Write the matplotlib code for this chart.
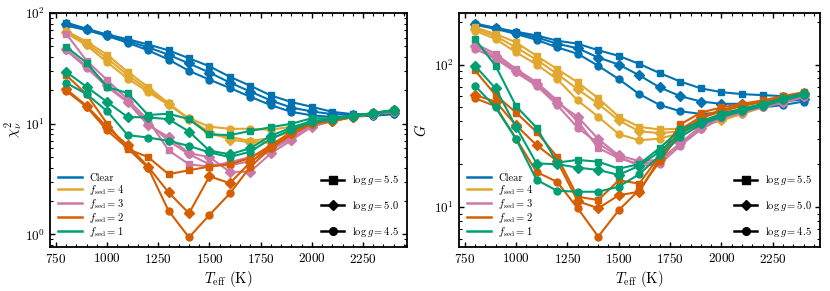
import matplotlib
matplotlib.use("Agg")
import matplotlib.pyplot as plt
from matplotlib.lines import Line2D
from matplotlib.ticker import MultipleLocator

plt.rcParams['font.family'] = 'serif'
plt.rcParams['font.serif'] = ['cmr10']
plt.rcParams['mathtext.fontset'] = 'cm'
plt.rcParams['axes.formatter.use_mathtext'] = True
plt.rcParams['axes.unicode_minus'] = False

# effective temperatures of the grid
teff = [800, 900, 1000, 1100, 1200, 1300, 1400, 1500, 1600, 1700,
        1800, 1900, 2000, 2100, 2200, 2300, 2400]

# reduced chi^2, rows: log g = 5.5, 5.0, 4.5
chi2_clear = [
    [82, 72, 64, 58, 52, 46, 39, 33, 26.5, 22, 18, 15.7, 14.2, 12.8, 12.2, 12.2, 12.8],
    [80, 71, 63, 56, 49, 42, 35, 29, 23.5, 19.5, 16.2, 14, 12.9, 12.2, 12, 12, 12.5],
    [77, 70, 62, 54, 46, 38, 30, 25, 21, 17.5, 14.7, 12.8, 11.9, 11.5, 11.6, 11.8, 12.2],
]
chi2_f4 = [
    [69, 55, 42, 29.4, 21.5, 15.3, 11.0, 8.0, 7.6, 7.0, 7.4, 8.5, 10.0, 10.8, 11.6, 12.4, 13.2],
    [68, 53, 39, 27.5, 20.3, 15.0, 11.0, 8.4, 7.2, 6.8, 6.8, 7.2, 9.6, 10.6, 11.5, 12.3, 13.0],
    [66, 51, 36, 25.6, 19.4, 14.8, 11.2, 9.4, 9.0, 9.0, 8.8, 9.4, 10.2, 10.7, 11.5, 12.2, 12.8],
]
chi2_f3 = [
    [65, 37, 24.8, 16.6, 10.8, 5.75, 4.3, 4.1, 4.5, 5.0, 6.0, 7.8, 9.8, 10.8, 11.6, 12.4, 13.0],
    [47, 33, 22.5, 15.7, 9.7, 7.6, 5.4, 5.0, 3.66, 3.7, 5.4, 7.1, 9.4, 10.6, 11.5, 12.3, 12.9],
    [46, 32, 21.5, 15.7, 10.2, 7.0, 5.3, 4.3, 4.2, 4.6, 5.8, 7.4, 9.5, 10.6, 11.5, 12.3, 12.9],
]
chi2_f2 = [
    [27.5, 18.4, 10.0, 5.9, 5.0, 3.5, 3.8, 4.1, 4.3, 4.9, 6.4, 8.4, 10.4, 10.8, 11.7, 12.5, 13.3],
    [20.5, 14.5, 9.3, 6.4, 4.1, 2.4, 1.55, 3.35, 2.9, 4.5, 6.2, 8.2, 10.2, 10.6, 11.6, 12.4, 13.2],
    [19.8, 14.2, 8.7, 6.0, 4.0, 1.64, 0.94, 1.5, 2.35, 4.1, 6.0, 8.0, 10.0, 10.5, 11.5, 12.3, 13.1],
]
chi2_f1 = [
    [49.5, 35.5, 21.5, 18.9, 12.0, 12.3, 11.0, 8.0, 7.9, 8.6, 9.3, 10.0, 11.2, 11.2, 11.8, 12.5, 13.3],
    [29.4, 21.5, 15.7, 11.5, 11.4, 11.0, 8.5, 5.7, 5.3, 6.0, 7.8, 9.2, 10.6, 11.0, 11.7, 12.4, 13.2],
    [23.4, 18.5, 13.0, 7.9, 7.5, 7.0, 6.3, 5.5, 5.0, 5.6, 7.3, 8.8, 10.3, 10.9, 11.6, 12.3, 13.1],
]

# G statistic, rows: log g = 5.5, 5.0, 4.5
g_clear = [
    [194, 181, 170, 160, 147, 140, 126, 115, 101, 87, 76, 68, 64, 62, 61, 60, 59],
    [192, 180, 167, 155, 140, 130, 112, 100, 84, 69, 60, 55, 53, 53, 54, 55, 57],
    [190, 178, 164, 149, 132, 119, 98, 79, 62, 52, 47, 45, 46, 48, 50, 52, 55],
]
g_f4 = [
    [182, 164, 143, 115, 93, 75, 58, 43, 36.5, 35, 35.5, 39, 42, 47, 52, 57, 62],
    [178, 158, 132, 108, 86, 67, 53, 40.6, 34, 33, 34, 38, 41, 46, 51, 56, 61],
    [173, 151, 122, 100, 79, 56, 43, 32.5, 29.4, 30.2, 33, 37, 40.5, 45, 50, 55, 60],
]
g_f3 = [
    [140, 119, 93, 75, 56, 40, 26, 22, 20, 21, 28, 37, 44, 48, 52, 56, 61],
    [135, 114, 90, 73, 54, 43, 30, 23, 21, 21.4, 28, 36, 43, 47, 51, 55, 60],
    [129, 110, 88, 71, 52, 36, 28, 22.5, 19.5, 20, 27, 35, 42, 46, 50, 54, 59],
]
g_f2 = [
    [91, 61, 46, 33.6, 22.5, 11.8, 11.2, 15.4, 14.6, 23, 38, 46, 50, 53, 56, 60, 64],
    [61, 55, 37.4, 27.2, 21, 11.0, 9.8, 12.1, 12.8, 22, 35, 43, 48, 52, 55, 59, 63],
    [58, 51, 30.2, 17.6, 15, 9.8, 6.2, 9.5, 13.2, 21, 33, 42, 47, 51, 55, 59, 63],
]
g_f1 = [
    [151, 98, 51, 36, 20.5, 21.4, 20.8, 18.6, 20, 26, 35, 40, 45, 49, 53, 58, 63],
    [98, 68, 36.5, 20.2, 20, 18.9, 18.2, 16.8, 19.5, 24.5, 33, 39, 44, 48, 52, 57, 62],
    [71, 50, 30, 15.5, 13, 12.8, 12.8, 13.9, 17, 23, 31, 38, 43, 47, 51, 56, 61],
]

model_labels = ['Clear', r'$f_{\rm sed} = 4$', r'$f_{\rm sed} = 3$',
                r'$f_{\rm sed} = 2$', r'$f_{\rm sed} = 1$']
model_colors = ['#0072B2', '#E2A72E', '#CC79A7', '#D55E00', '#009E73']
logg_labels = [r'$\log g = 5.5$', r'$\log g = 5.0$', r'$\log g = 4.5$']
logg_markers = ['s', 'D', 'o']

fig = plt.figure(figsize=(8.3, 2.91), dpi=100)
ax1 = fig.add_axes([50/830, 44/291, 357/830, 234/291])
ax2 = fig.add_axes([459/830, 44/291, 361/830, 234/291])


def draw(ax, models):
    for rows, color in zip(models, model_colors):
        for vals, mk in zip(rows, logg_markers):
            ms = 4.6 if mk == 'D' else 5.0
            ax.plot(teff, vals, color=color, marker=mk, ms=ms, lw=1.5)
    ax.set_yscale('log')
    ax.xaxis.set_major_locator(MultipleLocator(250))
    ax.xaxis.set_minor_locator(MultipleLocator(50))
    ax.tick_params(which='both', direction='in', top=True, right=True, labelsize=9.5)
    ax.tick_params(which='major', length=3.5, width=1.0)
    ax.tick_params(which='minor', length=2, width=0.8)
    for s in ax.spines.values():
        s.set_linewidth(1.3)
    ax.set_xlabel(r'$T_{\rm eff}$ (K)', fontsize=10.5, labelpad=2)

    h1 = [Line2D([], [], color=c, lw=1.8) for c in model_colors]
    leg1 = ax.legend(h1, model_labels, loc='lower left', frameon=False,
                     fontsize=7.6, labelspacing=0.0, handlelength=2.2,
                     handletextpad=0.7, borderaxespad=0.4)
    ax.add_artist(leg1)
    h2 = [Line2D([], [], color='k', lw=1.8, marker=m, ms=5.5) for m in logg_markers]
    ax.legend(h2, logg_labels, loc='lower right', frameon=False,
              fontsize=7.6, labelspacing=1.1, handlelength=2.2,
              handletextpad=0.7, borderaxespad=0.4)


draw(ax1, [chi2_clear, chi2_f4, chi2_f3, chi2_f2, chi2_f1])
ax1.set_xlim(721, 2465)
ax1.set_ylim(0.77, 100)
ax1.set_ylabel(r'$\chi^2_\nu$', fontsize=10.5, labelpad=1)

draw(ax2, [g_clear, g_f4, g_f3, g_f2, g_f1])
ax2.set_xlim(722, 2480)
ax2.set_ylim(5.24, 230)
ax2.set_ylabel(r'$G$', fontsize=10.5, labelpad=4)

fig.savefig('out.png', dpi=100)
